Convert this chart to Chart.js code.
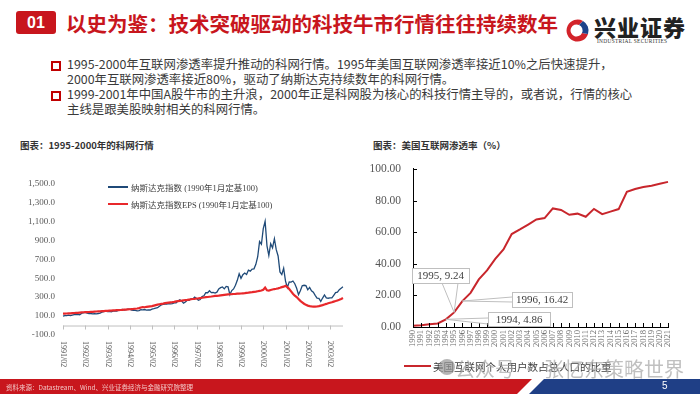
<!DOCTYPE html>
<html>
<head>
<meta charset="utf-8">
<script src="https://cdn.jsdelivr.net/npm/chart.js@4.4.1/dist/chart.umd.min.js"></script>
<style>
  body { margin: 0; width: 700px; height: 394px; overflow: hidden; background: #fff; position: relative;
         font-family: "Noto Sans CJK SC", "Noto Sans", sans-serif; }
  .abs { position: absolute; }
  .tag { left: 16px; top: 11px; width: 40px; height: 23px; background: #c8161d; border-radius: 3px;
         color: #fff; font: bold 16px "Liberation Sans", sans-serif; text-align: center; line-height: 23px; }
  .title { left: 66px; top: 8px; color: #c8161d; font-size: 20.5px; font-weight: bold; white-space: nowrap; }
  .logo-cn { left: 594px; top: 10px; font-size: 22px; font-weight: 900; color: #222; letter-spacing: 1px; }
  .logo-en { left: 597px; top: 38px; font: 5.4px "Liberation Serif", serif; color: #333; letter-spacing: 0.3px; }
  .bul { width: 6px; height: 6px; border: 2px solid #c00000; left: 51px; }
  .txt { left: 67px; font-size: 12.4px; color: #3a3a3a; line-height: 15px; white-space: nowrap; }
  .ctitle { font-size: 9.5px; color: #333; font-weight: bold; }
  .leg { font: 8.5px "Liberation Serif", "Noto Sans CJK SC", serif; color: #404040; white-space: nowrap; }
  .legline { height: 2px; }
  .foot { left: 6px; top: 382px; font-size: 6.5px; color: #f3c6c6; white-space: nowrap; }
  .page { left: 662px; top: 380px; font: 10px "Liberation Sans", sans-serif; color: #fff; }
  .wm { left: 455px; top: 354px; font-size: 20px; color: rgba(165,165,165,0.7); white-space: nowrap; }
</style>
</head>
<body>
<div class="abs tag">01</div>
<div class="abs title">以史为鉴：技术突破驱动的科技牛市行情往往持续数年</div>
<svg class="abs" style="left:563px;top:17px" width="28" height="28" viewBox="0 0 28 28">
  <path d="M20 4 A11 11 0 1 0 25 17 L19 16 A6 6 0 1 1 16 8 Z" fill="#d3232a"/>
  <path d="M16 8 A6 6 0 0 1 19 16 L25 17 A11 11 0 0 0 20 4 Z" fill="#1d4289"/>
  <circle cx="14" cy="14" r="3.2" fill="#fff"/>
</svg>
<div class="abs logo-cn">兴业证券</div>
<div class="abs logo-en">INDUSTRIAL SECURITIES</div>

<div class="abs bul" style="top:61px"></div>
<div class="abs txt" style="top:57px">1995-2000年互联网渗透率提升推动的科网行情。1995年美国互联网渗透率接近10%之后快速提升，<br>2000年互联网渗透率接近80%，驱动了纳斯达克持续数年的科网行情。</div>
<div class="abs bul" style="top:91px"></div>
<div class="abs txt" style="top:87px">1999-2001年中国A股牛市的主升浪，2000年正是科网股为核心的科技行情主导的，或者说，行情的核心<br>主线是跟美股映射相关的科网行情。</div>

<div class="abs ctitle" style="left:20px;top:138px">图表：1995-2000年的科网行情</div>
<div class="abs ctitle" style="left:373px;top:138px">图表：美国互联网渗透率（%）</div>

<canvas id="left" class="abs" style="left:0;top:170px" width="350" height="202"></canvas>
<canvas id="right" class="abs" style="left:350px;top:150px" width="350" height="210"></canvas>

<div class="abs legline" style="left:108px;top:186px;width:20px;background:#1f4a78"></div>
<div class="abs leg" style="left:131px;top:181px">纳斯达克指数 (1990年1月定基100)</div>
<div class="abs legline" style="left:108px;top:203px;width:20px;background:#e8282b"></div>
<div class="abs leg" style="left:131px;top:198px">纳斯达克指数EPS (1990年1月定基100)</div>

<div class="abs legline" style="left:404px;top:365px;width:27px;background:#c8262c"></div>
<div class="abs leg" style="left:433px;top:359px;font-size:10.5px;font-family:'Noto Sans CJK SC',sans-serif">美国互联网个人用户数占总人口的比重</div>
<svg class="abs" style="left:437px;top:357px" width="20" height="20"><circle cx="10" cy="10" r="8" fill="rgba(150,150,150,0.7)"/></svg>
<div class="abs wm">公众号 · 张忆东策略世界</div>

<svg class="abs" style="left:0;top:379px" width="700" height="15">
  <polygon points="0,0 532,0 517,15 0,15" fill="#c8161d"/>
  <polygon points="544,0 700,0 700,15 529,15" fill="#1f3f86"/>
</svg>
<div class="abs foot">资料来源：Datastream、Wind、兴业证券经济与金融研究院整理</div>
<div class="abs page">5</div>

<script>
// left chart: monthly, 1991/02 .. 2003/09
const startYear = 1991, startMonth = 2;
const nasdaqIndex = [
  99, 105, 105, 110, 104, 109, 114, 115, 118, 114, 128,             // 1991 Feb-Dec
  135, 138, 131, 126, 127, 123, 126, 123, 127, 132, 142, 147,       // 1992
  152, 146, 150, 144, 152, 153, 153, 162, 166, 170, 164, 169,       // 1993
  174, 173, 162, 160, 160, 154, 157, 167, 166, 169, 163, 164,       // 1994
  164, 173, 178, 184, 188, 203, 218, 222, 227, 226, 231, 229,       // 1995
  231, 239, 240, 259, 271, 258, 235, 248, 267, 266, 282, 281,       // 1996
  300, 285, 266, 275, 305, 314, 347, 346, 367, 347, 349, 342,       // 1997
  352, 386, 400, 407, 387, 413, 408, 326, 369, 386, 425, 477,       // 1998
  546, 498, 536, 554, 538, 585, 574, 596, 598, 646, 726, 886,       // 1999
  858, 1023, 1100, 841, 740, 863, 820, 916, 800, 734, 566, 538,     // 2000
  604, 469, 401, 461, 459, 470, 441, 393, 326, 368, 420, 425,       // 2001
  421, 377, 402, 367, 352, 319, 289, 286, 255, 290, 322, 291,       // 2002
  288, 291, 292, 319, 347, 353, 378, 394, 410                       // 2003 Jan-Sep
];
const nasdaqEps = [
  125, 126, 127, 128, 129, 131, 132, 133, 134, 136, 138,
  140, 141, 142, 143, 144, 145, 147, 148, 149, 150, 152, 153,
  154, 155, 157, 158, 159, 160, 162, 163, 164, 166, 167, 168,
  170, 172, 174, 175, 177, 180, 184, 190, 195, 193, 196, 199,
  202, 205, 210, 215, 220, 225, 229, 232, 236, 239, 242, 245,
  247, 250, 255, 258, 261, 263, 266, 269, 271, 274, 277, 280,
  282, 285, 287, 290, 293, 296, 299, 301, 304, 306, 309, 312,
  313, 315, 318, 321, 324, 326, 328, 330, 331, 333, 334, 336,
  337, 338, 340, 342, 345, 347, 350, 352, 355, 358, 362, 366,
  370, 378, 400, 372, 368, 375, 380, 385, 388, 392, 398, 405,
  410, 420, 405, 385, 360, 335, 315, 300, 280, 260, 245, 230,
  218, 210, 205, 202, 200, 199, 201, 205, 210, 215, 222, 228,
  235, 240, 245, 252, 258, 265, 272, 280, 290
];
const leftYTicks = [-100, 1500, 200]; // min, max, step

// right chart
const years = ['1990','1991','1992','1993','1994','1995','1996','1997','1998','1999','2000',
  '2001','2002','2003','2004','2005','2006','2007','2008','2009','2010','2011','2012',
  '2013','2014','2015','2016','2017','2018','2019','2020','2021'];
const penetration = [0.78, 1.16, 1.72, 2.27, 4.86, 9.24, 16.42, 21.6, 30.1, 35.8, 43.1,
  49.1, 58.8, 61.7, 64.8, 68.0, 68.9, 75.0, 74.0, 71.0, 71.7, 69.7, 74.7,
  71.4, 73.0, 74.6, 85.5, 87.3, 88.5, 89.4, 90.6, 91.8];
const callouts = [
  { year: '1995', text: '1995, 9.24', box: [62, 118, 57, 15], feet: [[92, 133], [108, 133]] },
  { year: '1996', text: '1996, 16.42', box: [162, 142, 60, 15], feet: [[162, 147], [162, 152]] },
  { year: '1994', text: '1994, 4.86', box: [138, 162, 62, 14], feet: [[138, 168], [138, 174]] }
];

const months = [];
for (let i = 0; i < nasdaqIndex.length; i++) {
  const m = startMonth - 1 + i;
  const y = startYear + Math.floor(m / 12);
  months.push(y + '/' + String(m % 12 + 1).padStart(2, '0'));
}

const serif = 'Liberation Serif';

// zero line with year ticks + clockwise labels for the left chart
const leftAxis = {
  id: 'leftAxis',
  afterDraw(chart) {
    const { ctx, chartArea, scales: { x, y } } = chart;
    const y0 = y.getPixelForValue(0);
    ctx.save();
    ctx.strokeStyle = '#bfbfbf';
    ctx.lineWidth = 1;
    ctx.beginPath();
    ctx.moveTo(chartArea.left, y0 + 0.5);
    ctx.lineTo(chartArea.right, y0 + 0.5);
    ctx.stroke();
    ctx.fillStyle = '#595959';
    ctx.font = '8px ' + serif;
    ctx.textAlign = 'left';
    ctx.textBaseline = 'middle';
    months.forEach((lab, i) => {
      if (i % 12 !== 0) return;
      const px = Math.round(x.getPixelForValue(i)) + 0.5;
      ctx.beginPath();
      ctx.moveTo(px, y0);
      ctx.lineTo(px, y0 + 4);
      ctx.stroke();
      ctx.save();
      ctx.translate(px, chartArea.bottom + 6);
      ctx.rotate(Math.PI / 2);
      ctx.fillText(lab, 0, 0);
      ctx.restore();
    });
    ctx.restore();
  }
};

// inward ticks and callouts for the right chart
const rightDecor = {
  id: 'rightDecor',
  afterDraw(chart) {
    const { ctx, chartArea, scales: { x, y } } = chart;
    ctx.save();
    ctx.strokeStyle = '#000';
    ctx.lineWidth = 1;
    ctx.beginPath();
    years.forEach((_, i) => {
      const px = Math.round(x.getPixelForValue(i)) + 0.5;
      ctx.moveTo(px, chartArea.bottom);
      ctx.lineTo(px, chartArea.bottom - 4);
    });
    y.ticks.forEach(t => {
      const py = Math.round(y.getPixelForValue(t.value)) + 0.5;
      ctx.moveTo(chartArea.left, py);
      ctx.lineTo(chartArea.left + 4, py);
    });
    ctx.stroke();

    ctx.font = '11px ' + serif;
    ctx.textBaseline = 'middle';
    ctx.textAlign = 'center';
    callouts.forEach(c => {
      const i = years.indexOf(c.year);
      const px = x.getPixelForValue(i), py = y.getPixelForValue(penetration[i]);
      ctx.strokeStyle = '#bfbfbf';
      ctx.beginPath();
      c.feet.forEach(f => { ctx.moveTo(f[0], f[1]); ctx.lineTo(px, py); });
      ctx.stroke();
      const [bx, by, bw, bh] = c.box;
      ctx.fillStyle = '#fff';
      ctx.fillRect(bx, by, bw, bh);
      ctx.strokeRect(bx + 0.5, by + 0.5, bw, bh);
      ctx.fillStyle = '#404040';
      ctx.fillText(c.text, bx + bw / 2, by + bh / 2 + 1);
    });
    ctx.restore();
  }
};

new Chart(document.getElementById('left'), {
  type: 'line',
  data: {
    labels: months,
    datasets: [
      { label: '纳斯达克指数 (1990年1月定基100)', data: nasdaqIndex, borderColor: '#1f4a78',
        borderWidth: 1.3, pointRadius: 0, order: 1 },
      { label: '纳斯达克指数EPS (1990年1月定基100)', data: nasdaqEps, borderColor: '#e8282b',
        borderWidth: 2.2, pointRadius: 0, order: 0 }
    ]
  },
  options: {
    responsive: false,
    animation: false,
    layout: { padding: { top: 10, right: 7, bottom: 37, left: 0 } },
    plugins: { legend: { display: false }, tooltip: { enabled: false } },
    scales: {
      x: { display: false },
      y: {
        min: leftYTicks[0], max: leftYTicks[1],
        afterFit(s) { s.width = 63; },
        grid: { display: false, drawTicks: false },
        border: { display: false },
        ticks: {
          stepSize: leftYTicks[2], padding: 8, color: '#595959',
          font: { family: serif, size: 9 },
          callback: v => v.toLocaleString('en-US', { minimumFractionDigits: 1, maximumFractionDigits: 1 })
        }
      }
    }
  },
  plugins: [leftAxis]
});

new Chart(document.getElementById('right'), {
  type: 'line',
  data: {
    labels: years,
    datasets: [
      { label: '美国互联网个人用户数占总人口的比重', data: penetration, borderColor: '#c8262c',
        borderWidth: 2, pointRadius: 0 }
    ]
  },
  options: {
    responsive: false,
    animation: false,
    layout: { padding: { top: 15, right: 32, bottom: 3, left: 0 } },
    plugins: { legend: { display: false }, tooltip: { enabled: false } },
    scales: {
      x: {
        afterFit(s) { s.height = 30; },
        grid: { display: false, drawTicks: false },
        border: { display: true, color: '#000', width: 1 },
        ticks: { autoSkip: false, minRotation: 90, maxRotation: 90, padding: 3, color: '#6a6a6a',
                 font: { family: serif, size: 8.5 } }
      },
      y: {
        min: 0, max: 100,
        afterFit(s) { s.width = 63; },
        grid: { display: false, drawTicks: false },
        border: { display: true, color: '#000', width: 1 },
        ticks: { stepSize: 10, padding: 12, color: '#555',
                 font: { family: serif, size: 11.5 }, callback: v => v.toFixed(2) }
      }
    }
  },
  plugins: [rightDecor]
});
</script>
</body>
</html>
